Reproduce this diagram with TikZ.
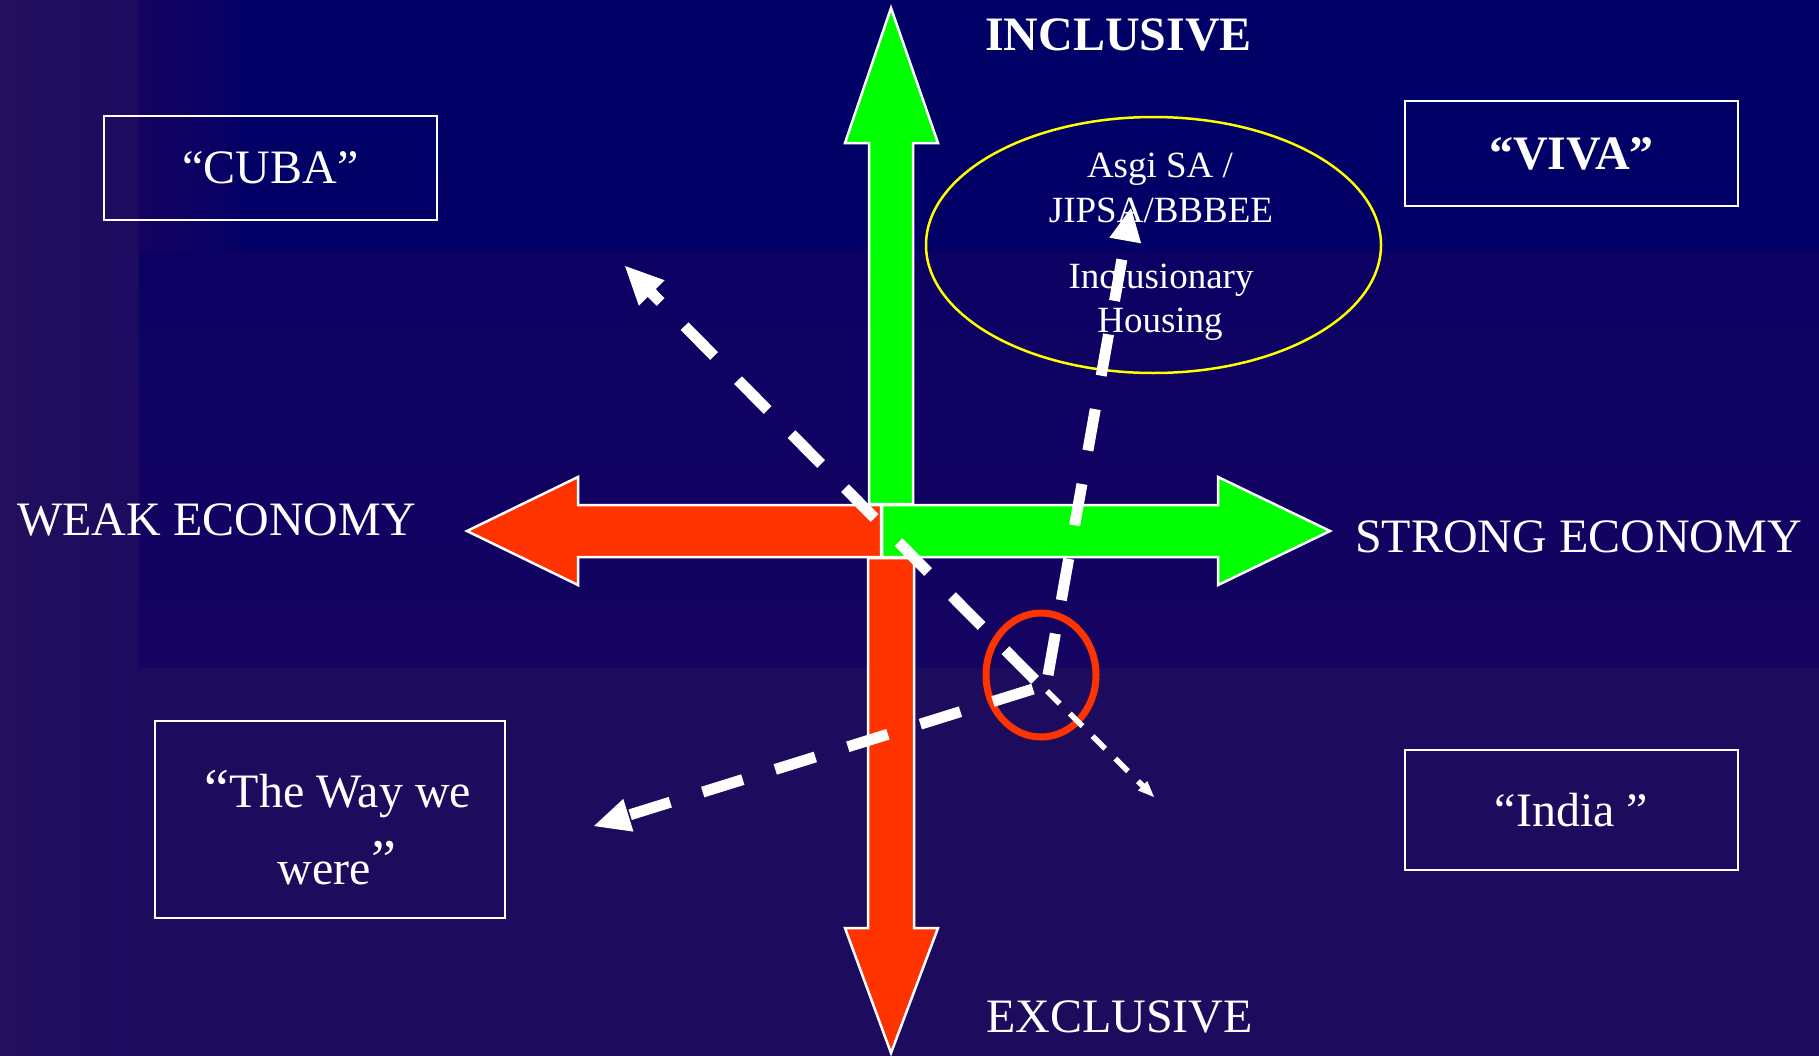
\documentclass[tikz,border=0pt]{standalone}
\usepackage{fontspec}
\setmainfont{Liberation Serif}
\usetikzlibrary{arrows.meta,shapes.geometric}

\definecolor{bgbase}{HTML}{1D0C5E}
\definecolor{bgleft}{HTML}{230F5D}
\definecolor{bgleftin}{HTML}{1C0B5F}
\definecolor{bgmidtop}{HTML}{060064}
\definecolor{bgmidbot}{HTML}{150361}
\definecolor{bgtop}{HTML}{000066}
\definecolor{bgtopbot}{HTML}{020066}
\definecolor{gainc}{HTML}{00FF00}
\definecolor{lossc}{HTML}{FF3300}
\definecolor{ringc}{HTML}{FFFF00}

\tikzset{
  axisarrow/.style={draw=white, line width=2.5pt, line join=miter},
  lbl/.style={text=white, inner sep=0pt, font=\fontsize{48}{58}\selectfont},
  small/.style={text=white, inner sep=0pt, font=\fontsize{37}{45}\selectfont},
  scenario/.style={draw=white, line width=2.5pt, minimum width=333pt,
    minimum height=104pt, inner sep=0pt, text=white,
    font=\fontsize{48}{58}\selectfont},
  trend/.style={draw=white, line width=11pt, dash pattern=on 42pt off 34pt},
  thintrend/.style={draw=white, line width=5.5pt, dash pattern=on 18pt off 14pt},
}

\begin{document}
\begin{tikzpicture}[x=1pt,y=-1pt]
\useasboundingbox (0,0) rectangle (1819,1055);

% background: purple in the lower left fading to navy in the upper right
\fill[bgbase] (-6,-6) rectangle (1825,1061);
\shade[left color=bgleft, right color=bgleftin] (-6,-6) rectangle (139,1061);
\shade[top color=bgmidtop, bottom color=bgmidbot] (139,-6) rectangle (1825,667);
\shade[left color=bgmidbot, right color=bgmidtop] (139,-6) rectangle (238,250);
\shade[top color=bgtop, bottom color=bgtopbot] (238,-6) rectangle (1825,250);

% the four block arrows of the axes
\filldraw[axisarrow, fill=gainc]
  (869,504) -- (869,143) -- (845,143) -- (891,8) -- (938,143) -- (913,143) -- (913,504) -- cycle;
\filldraw[axisarrow, fill=lossc]
  (868,558) -- (868,928) -- (845,928) -- (891,1053) -- (938,928) -- (914,928) -- (914,558) -- cycle;
\filldraw[axisarrow, fill=lossc]
  (881,505) -- (578,505) -- (578,477) -- (467,531) -- (578,585) -- (578,557) -- (881,557) -- cycle;
\filldraw[axisarrow, fill=gainc]
  (882,505) -- (1218,505) -- (1218,477) -- (1330,531) -- (1218,585) -- (1218,557) -- (882,557) -- cycle;

% axis labels
\node[lbl, anchor=base west] (weak) at (17,535) {WEAK ECONOMY};
\node[lbl, anchor=base west] (strong) at (1355,552) {STRONG ECONOMY};
\node[lbl, anchor=base west] (incl) at (985,50) {\textbf{INCLUSIVE}};
\node[lbl, anchor=base west] (excl) at (986,1032) {EXCLUSIVE};

% scenario boxes
\node[scenario] (cuba) at (270.5,168) {“CUBA”};
\node[scenario, minimum height=105pt] (viva) at (1571.5,153.5) {\textbf{“VIVA”}};
\node[scenario, minimum height=120pt] (india) at (1571.5,810) {“India ”};
\node[scenario, minimum width=350pt, minimum height=197pt] (way) at (330,819.5) {};
\node[lbl, anchor=base] (way1) at (338,807) {\fontsize{56}{58}\selectfont“\fontsize{48}{58}\selectfont The Way we};
\node[lbl, anchor=base] (way2) at (337,884) {were\fontsize{56}{58}\selectfont\raisebox{6pt}{”}};

% policy ellipse
\node[draw=ringc, line width=2.5pt, ellipse, minimum width=455pt,
  minimum height=256pt, inner sep=0pt] (policy) at (1153.5,245) {};
\node[small, anchor=base] (asgi) at (1160,177) {Asgi SA /};
\node[small, anchor=base] (jipsa) at (1161,222) {JIPSA/BBBEE};
\node[small, anchor=base] (inclh) at (1161,288) {Inclusionary};
\node[small, anchor=base] (hous) at (1160,332) {Housing};

% present position
\node[draw=lossc, line width=7pt, ellipse, minimum width=110pt,
  minimum height=124pt, inner sep=0pt] (now) at (1041,675) {};

% possible paths out of the present position
\coordinate (hubUL) at (1035,680);
\coordinate (tipUL) at (625,266);
\coordinate (hubU)  at (1048,675);
\coordinate (tipU)  at (1131,208);
\coordinate (hubDL) at (1033,689);
\coordinate (tipDL) at (594,826);
\coordinate (hubDR) at (1047,691);
\coordinate (tipDR) at (1154,797);

\draw[trend, -{Triangle[length=38pt,width=36pt,line width=1pt]}] (hubUL) -- (tipUL);
\draw[trend, -{Triangle[length=33pt,width=32pt,line width=1pt]}] (hubU) -- (tipU);
\draw[trend, -{Triangle[length=36pt,width=34pt,line width=1pt]}] (hubDL) -- (tipDL);
\draw[thintrend, -{Triangle[length=16pt,width=13pt,line width=1pt]}] (hubDR) -- (tipDR);
\end{tikzpicture}
\end{document}
